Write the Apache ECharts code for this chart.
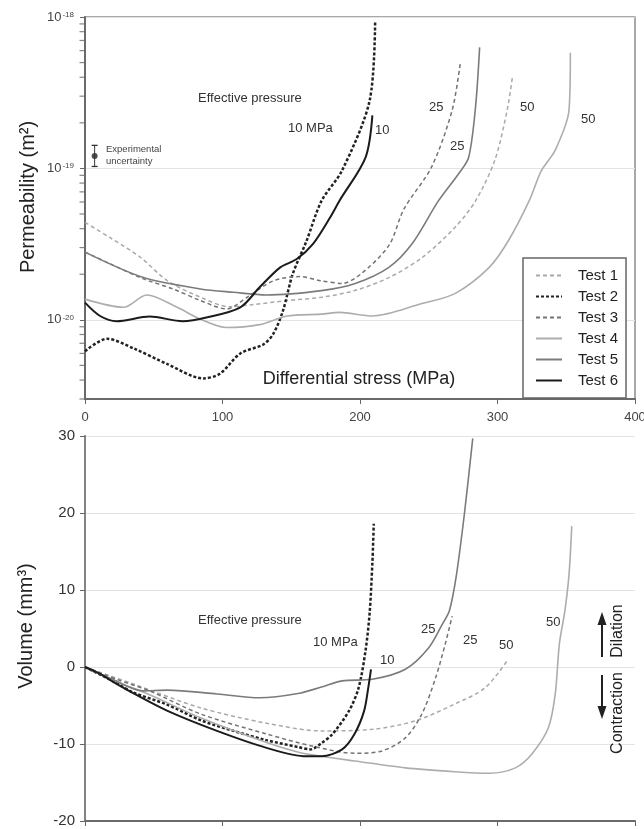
<!DOCTYPE html>
<html>
<head>
<meta charset="utf-8">
<title>Permeability and volume vs differential stress</title>
<script src="https://cdn.jsdelivr.net/npm/echarts@6/dist/echarts.min.js"></script>
<style>
  html, body { margin: 0; padding: 0; background: #fff; }
  #chart { width: 644px; height: 829px; }
</style>
</head>
<body>
<div id="chart"></div>
<script>
// ---- data: [differential stress (MPa), value] ----
// permeability (m2)
var permTest1 = [[0,4.4e-20],[18,3.5e-20],[40,2.6e-20],[60,1.81e-20],[84,1.41e-20],[105,1.22e-20],[122,1.26e-20],[147,1.34e-20],[172,1.41e-20],[196,1.56e-20],[221,1.9e-20],[245,2.57e-20],[269,4.07e-20],[284,6.1e-20],[298,1.13e-19],[307,2.42e-19],[311,4.1e-19]];
var permTest2 = [[0,6.2e-21],[16,7.5e-21],[35,6.5e-21],[60,5.1e-21],[86,4.1e-21],[98,4.4e-21],[113,6.0e-21],[130,6.9e-21],[137,8.1e-21],[144,1.15e-20],[151,2.0e-20],[161,3.3e-20],[172,6.1e-20],[187,9.7e-20],[207,2.8e-19],[211,9.3e-19]];
var permTest3 = [[0,2.8e-20],[18,2.35e-20],[42,1.87e-20],[64,1.6e-20],[84,1.34e-20],[103,1.18e-20],[118,1.41e-20],[137,1.81e-20],[156,1.93e-20],[172,1.81e-20],[187,1.74e-20],[201,2.02e-20],[221,3.1e-20],[232,5.4e-20],[252,1.02e-19],[267,2.42e-19],[273,5.0e-19]];
var permTest4 = [[0,1.37e-20],[28,1.21e-20],[45,1.46e-20],[67,1.21e-20],[84,1.01e-20],[103,8.9e-21],[127,9.3e-21],[147,1.06e-20],[172,1.09e-20],[185,1.12e-20],[209,1.06e-20],[245,1.28e-20],[269,1.49e-20],[294,2.22e-20],[308,3.34e-20],[323,6.1e-20],[332,9.7e-20],[342,1.32e-19],[352,2.42e-19],[353,5.8e-19]];
var permTest5 = [[0,2.8e-20],[42,1.91e-20],[84,1.6e-20],[108,1.52e-20],[132,1.46e-20],[172,1.56e-20],[196,1.73e-20],[221,2.22e-20],[238,3.19e-20],[257,6.1e-20],[272,9.3e-20],[279,1.18e-19],[284,2.53e-19],[287,6.3e-19]];
var permTest6 = [[0,1.3e-20],[11,1.06e-20],[23,9.8e-21],[47,1.05e-20],[71,9.8e-21],[89,1.04e-20],[113,1.21e-20],[127,1.64e-20],[142,2.22e-20],[154,2.52e-20],[166,3.19e-20],[178,4.7e-20],[185,6.1e-20],[204,1.18e-19],[209,2.24e-19]];

// volume change (mm3)
var volTest1 = [[0,0],[35,-2.2],[84,-5.3],[132,-7.3],[172,-8.3],[209,-8.1],[240,-7.0],[269,-4.8],[291,-2.7],[307,0.8]];
var volTest2 = [[0,0],[20,-1.8],[35,-3.3],[60,-4.9],[84,-6.9],[110,-8.4],[132,-9.5],[155,-10.4],[164,-10.7],[172,-9.9],[180,-8.7],[192,-5.7],[199,-2.7],[204,2.1],[207,7.0],[209,13.5],[210,18.6]];
var volTest3 = [[0,0],[23,-1.6],[47,-3.1],[84,-6.1],[132,-8.7],[166,-10.3],[196,-11.2],[216,-10.9],[233,-9.2],[245,-6.1],[255,-1.4],[262,3.0],[267,6.6]];
var volTest4 = [[0,0],[23,-1.9],[47,-3.6],[84,-6.6],[132,-9.8],[156,-11.1],[172,-11.6],[196,-12.2],[233,-13.1],[269,-13.6],[294,-13.8],[313,-13.1],[325,-11.3],[337,-7.9],[342,-3.5],[345,3.0],[349,7.3],[352,12],[354,18.3]];
var volTest5 = [[0,0],[20,-1.6],[42,-3.1],[60,-3.0],[96,-3.5],[127,-4.0],[156,-3.4],[172,-2.6],[187,-1.8],[209,-1.6],[233,-0.3],[250,2.5],[260,5.6],[265,7.3],[270,11.8],[276,20],[282,29.7]];
var volTest6 = [[0,0],[11,-0.9],[23,-2.2],[35,-3.4],[60,-5.7],[96,-8.3],[132,-10.5],[161,-11.6],[172,-11.6],[187,-10.7],[196,-8.7],[203,-5.7],[206,-2.7],[208,-0.3]];

// experimental uncertainty marker
var uncertaintyBar = [[7,1.03e-19],[7,1.42e-19]];
var uncertaintyPoint = [[7,1.21e-19]];

// axis ticks
var stressTicks = [0, 100, 200, 300, 400];
var volumeTicks = [-20, -10, 0, 10, 20, 30];
var minorTickMultipliers = [2, 3, 4, 5, 6, 7, 8, 9];
var minorTickDecades = [-21, -20, -19];

var testNames = ['Test 1', 'Test 2', 'Test 3', 'Test 4', 'Test 5', 'Test 6'];
var permData = [permTest1, permTest2, permTest3, permTest4, permTest5, permTest6];
var volData = [volTest1, volTest2, volTest3, volTest4, volTest5, volTest6];

var FONT = '"Liberation Sans", Arial, sans-serif';
var testStyles = [
  {color: '#a9a9a9', width: 1.5, type: [4, 3]},
  {color: '#222222', width: 2.5, type: [3, 2]},
  {color: '#737373', width: 1.5, type: [4, 3]},
  {color: '#adadad', width: 1.6, type: 'solid'},
  {color: '#7b7b7b', width: 1.6, type: 'solid'},
  {color: '#1b1b1b', width: 2, type: 'solid'}
];

var minorTicks = [];
minorTickDecades.forEach(function (d) {
  minorTickMultipliers.forEach(function (m) {
    var v = m * Math.pow(10, d);
    if (v >= 2.99e-21) minorTicks.push([0, v]);
  });
});

function curve(i, data, grid) {
  var s = testStyles[i];
  return {
    name: testNames[i],
    type: 'line',
    xAxisIndex: grid,
    yAxisIndex: grid,
    data: data,
    symbol: 'none',
    smooth: 0.3,
    lineStyle: {color: s.color, width: s.width, type: s.type},
    itemStyle: {color: s.color},
    z: 3
  };
}

function txt(text, x, y, size, opts) {
  opts = opts || {};
  return {
    type: 'text',
    x: x,
    y: y,
    rotation: opts.rotation || 0,
    silent: true,
    z: 10,
    style: {
      text: text,
      fill: opts.fill || '#333',
      font: size + 'px ' + FONT,
      align: opts.align || 'left',
      verticalAlign: 'middle'
    }
  };
}

function powerLabel(v) {
  var e = Math.log10(v);
  var r = Math.round(e);
  if (Math.abs(e - r) > 0.01) return '';
  return '{b|10}{s|' + r + '}';
}

var series = [];
permData.forEach(function (d, i) { series.push(curve(i, d, 0)); });
volData.forEach(function (d, i) { series.push(curve(i, d, 1)); });

series.push({
  name: 'minor ticks',
  type: 'scatter',
  xAxisIndex: 0, yAxisIndex: 0,
  data: minorTicks,
  symbol: 'rect',
  symbolSize: [5, 1.2],
  symbolOffset: [-3, 0],
  itemStyle: {color: '#666'},
  silent: true,
  clip: false,
  z: 4
});
series.push({
  name: 'uncertainty',
  type: 'line',
  xAxisIndex: 0, yAxisIndex: 0,
  data: uncertaintyBar,
  symbol: 'rect',
  symbolSize: [6, 1.3],
  showSymbol: true,
  lineStyle: {color: '#333', width: 1},
  itemStyle: {color: '#333'},
  silent: true
});
series.push({
  name: 'uncertainty point',
  type: 'scatter',
  xAxisIndex: 0, yAxisIndex: 0,
  data: uncertaintyPoint,
  symbolSize: 6,
  itemStyle: {color: '#222'},
  silent: true
});

var axisLineDark = {show: true, onZero: false, lineStyle: {color: '#6a6a6a', width: 2}};

var option = {
  animation: false,
  backgroundColor: '#fff',
  textStyle: {fontFamily: FONT},
  grid: [
    {left: 85, top: 17, width: 550, height: 382, show: true, borderColor: '#8c8c8c', borderWidth: 1.5,
      containLabel: false, outerBoundsMode: 'none'},
    {left: 85, top: 436, width: 550, height: 385, containLabel: false, outerBoundsMode: 'none'}
  ],
  legend: {
    data: testNames,
    orient: 'vertical',
    left: 523,
    top: 258,
    width: 103,
    itemWidth: 26,
    itemHeight: 14,
    itemGap: 6,
    padding: [10, 8, 10, 12],
    borderColor: '#666',
    borderWidth: 1.5,
    backgroundColor: '#fff',
    selectedMode: false,
    itemStyle: {opacity: 0},
    textStyle: {fontSize: 15, color: '#222', fontFamily: FONT, padding: [0, 0, 0, 11]}
  },
  xAxis: [
    {
      type: 'value', gridIndex: 0, min: stressTicks[0], max: stressTicks[stressTicks.length - 1], interval: 100,
      axisLine: axisLineDark,
      axisTick: {show: true, length: 5, lineStyle: {color: '#666'}},
      axisLabel: {fontSize: 13, color: '#444', margin: 12, fontFamily: FONT},
      splitLine: {show: false}
    },
    {
      type: 'value', gridIndex: 1, min: stressTicks[0], max: stressTicks[stressTicks.length - 1], interval: 100,
      axisLine: axisLineDark,
      axisTick: {show: true, length: 5, lineStyle: {color: '#666'}},
      axisLabel: {show: false},
      splitLine: {show: false}
    }
  ],
  yAxis: [
    {
      type: 'log', gridIndex: 0, min: 3e-21, max: 1e-18,
      axisLine: axisLineDark,
      axisTick: {show: true, length: 5, lineStyle: {color: '#666'}},
      splitLine: {show: true, lineStyle: {color: '#e3e3e3', width: 1}},
      axisLabel: {
        margin: 11,
        formatter: powerLabel,
        rich: {
          b: {fontSize: 13, color: '#444', fontFamily: FONT},
          s: {fontSize: 8, color: '#444', fontFamily: FONT, verticalAlign: 'top', padding: [0, 0, 0, 1]}
        }
      }
    },
    {
      type: 'value', gridIndex: 1, min: volumeTicks[0], max: volumeTicks[volumeTicks.length - 1], interval: 10,
      axisLine: axisLineDark,
      axisTick: {show: true, length: 5, lineStyle: {color: '#666'}},
      splitLine: {show: true, lineStyle: {color: '#e3e3e3', width: 1}},
      axisLabel: {fontSize: 15, color: '#333', margin: 10, fontFamily: FONT}
    },
    {
      type: 'value', gridIndex: 1, position: 'right', min: volumeTicks[0], max: volumeTicks[volumeTicks.length - 1],
      axisLine: {show: true, lineStyle: {color: '#8c8c8c', width: 1.5}},
      axisTick: {show: false},
      axisLabel: {show: false},
      splitLine: {show: false}
    }
  ],
  series: series,
  graphic: [
    // axis titles
    txt('Permeability (m²)', 28, 197, 20, {rotation: Math.PI / 2, align: 'center', fill: '#222'}),
    txt('Differential stress (MPa)', 359, 379, 18, {align: 'center', fill: '#222'}),
    txt('Volume (mm³)', 26, 626, 20, {rotation: Math.PI / 2, align: 'center', fill: '#222'}),
    // top panel notes
    txt('Effective pressure', 198, 98, 13),
    txt('10 MPa', 288, 128, 13),
    txt('10', 375, 130, 13),
    txt('25', 429, 107, 13),
    txt('25', 450, 146, 13),
    txt('50', 520, 107, 13),
    txt('50', 581, 119, 13),
    txt('Experimental', 106, 149, 9.5, {fill: '#444'}),
    txt('uncertainty', 106, 161, 9.5, {fill: '#444'}),
    // bottom panel notes
    txt('Effective pressure', 198, 620, 13),
    txt('10 MPa', 313, 642, 13),
    txt('10', 380, 660, 13),
    txt('25', 421, 629, 13),
    txt('25', 463, 640, 13),
    txt('50', 499, 645, 13),
    txt('50', 546, 622, 13),
    txt('Dilation', 618, 631, 16, {rotation: Math.PI / 2, align: 'center', fill: '#222'}),
    txt('Contraction', 618, 713, 16, {rotation: Math.PI / 2, align: 'center', fill: '#222'}),
    {type: 'line', silent: true, shape: {x1: 602, y1: 657, x2: 602, y2: 622}, style: {stroke: '#222', lineWidth: 2}},
    {type: 'polygon', silent: true, shape: {points: [[602, 612], [597.5, 625], [606.5, 625]]}, style: {fill: '#222'}},
    {type: 'line', silent: true, shape: {x1: 602, y1: 675, x2: 602, y2: 708}, style: {stroke: '#222', lineWidth: 2}},
    {type: 'polygon', silent: true, shape: {points: [[602, 719], [597.5, 706], [606.5, 706]]}, style: {fill: '#222'}}
  ]
};

var chart = echarts.init(document.getElementById('chart'));
chart.setOption(option);
</script>
</body>
</html>
